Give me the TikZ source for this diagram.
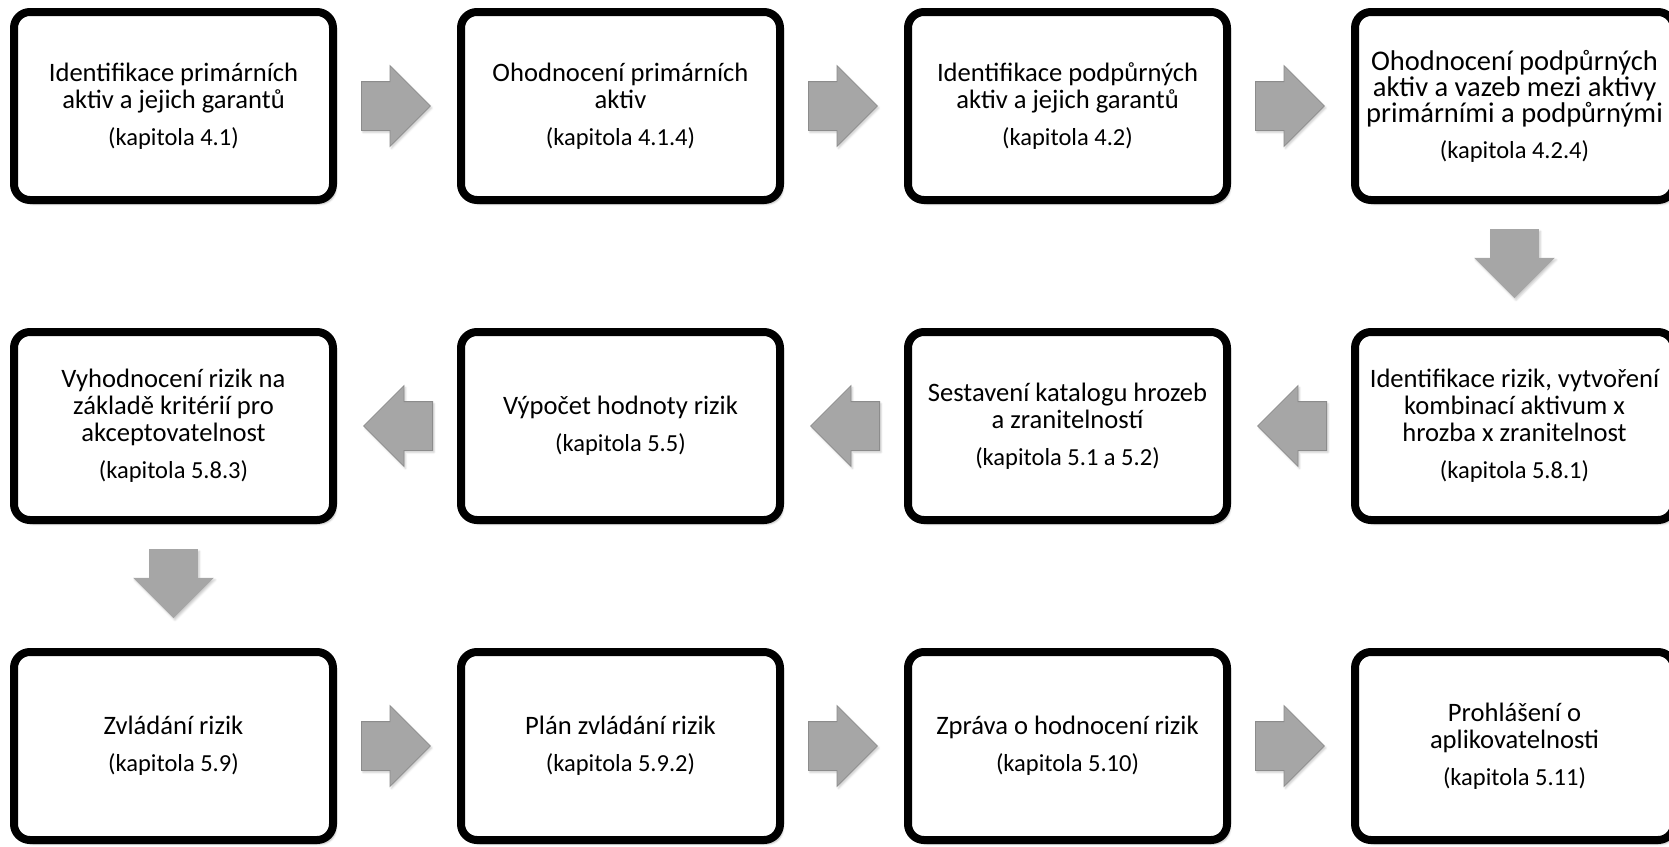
\documentclass[tikz,border=0pt]{standalone}
\usepackage{fontspec}
\setmainfont{Carlito}
\colorlet{flowgray}{black!35}
\usetikzlibrary{positioning,shapes.arrows,shadows.blur}
\tikzstyle{stage}=[draw, line width=8pt, rounded corners=16pt, fill=white,
  minimum width=319pt, minimum height=188pt, inner sep=0pt, align=center,
  font=\fontsize{26.6}{27}\selectfont,
  blur shadow={shadow xshift=3pt, shadow yshift=-4pt, shadow opacity=30}]
\tikzstyle{flow}=[single arrow, fill=flowgray, draw=black!45, line width=.8pt,
  minimum height=69pt, single arrow head extend=16pt,
  single arrow head indent=0pt, inner xsep=0pt, inner ysep=24pt,
  anchor=tail, pos=.2,
  blur shadow={shadow xshift=1.5pt, shadow yshift=-2pt, shadow opacity=20}]
\tikzstyle{flowleft}=[flow, rotate=180]
\tikzstyle{flowdown}=[flow, rotate=-90, draw=none]
\newcommand{\kap}[1]{\\[10pt]{\fontsize{24.5}{27}\selectfont (kapitola #1)}}

\begin{document}
\begin{tikzpicture}[>=stealth, node distance=320pt and 447pt, on grid]
  \useasboundingbox (0,0) rectangle (1669pt,-846pt);

  \node[stage] at (173.5pt,-106pt) (1) {Identifikace primárních\\aktiv a jejich garantů\kap{4.1}};
  \node[stage, right=of 1] (2) {Ohodnocení primárních\\aktiv\kap{4.1.4}};
  \node[stage, right=of 2] (3) {Identifikace podpůrných\\aktiv a jejich garantů\kap{4.2}};
  \node[stage, right=of 3, font=\fontsize{28.5}{26}\selectfont] (4) {Ohodnocení podpůrných\\aktiv a vazeb mezi aktivy\\primárními a podpůrnými\kap{4.2.4}};

  \node[stage, below=of 4] (5) {Identifikace rizik, vytvoření\\kombinací aktivum x\\hrozba x zranitelnost\kap{5.8.1}};
  \node[stage, left=of 5] (6) {Sestavení katalogu hrozeb\\a zranitelností\kap{5.1 a 5.2}};
  \node[stage, left=of 6] (7) {Výpočet hodnoty rizik\kap{5.5}};
  \node[stage, left=of 7] (8) {Vyhodnocení rizik na\\základě kritérií pro\\akceptovatelnost\kap{5.8.3}};

  \node[stage, below=of 8] (9) {Zvládání rizik\kap{5.9}};
  \node[stage, right=of 9] (10) {Plán zvládání rizik\kap{5.9.2}};
  \node[stage, right=of 10] (11) {Zpráva o hodnocení rizik\kap{5.10}};
  \node[stage, right=of 11] (12) {Prohlášení o\\aplikovatelnosti\kap{5.11}};

  \path (1) -- node[flow] {} (2);
  \path (2) -- node[flow] {} (3);
  \path (3) -- node[flow] {} (4);
  \path (4) -- node[flowdown] {} (5);
  \path (5) -- node[flowleft] {} (6);
  \path (6) -- node[flowleft] {} (7);
  \path (7) -- node[flowleft] {} (8);
  \path (8) -- node[flowdown] {} (9);
  \path (9) -- node[flow] {} (10);
  \path (10) -- node[flow] {} (11);
  \path (11) -- node[flow] {} (12);
\end{tikzpicture}
\end{document}
